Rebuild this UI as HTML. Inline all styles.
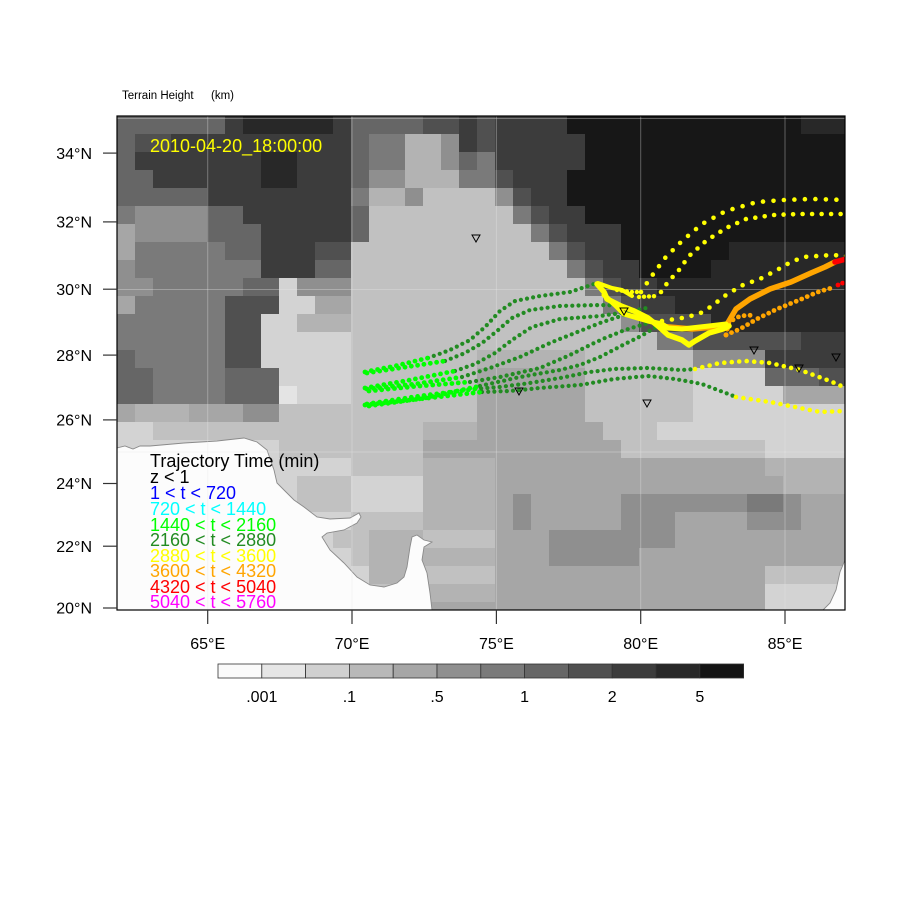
<!DOCTYPE html>
<html><head><meta charset="utf-8">
<style>
html,body{margin:0;padding:0;background:#fff;}
svg{display:block;font-family:"Liberation Sans",Arial,sans-serif;}
</style></head>
<body>
<svg id="s" xmlns="http://www.w3.org/2000/svg" width="900" height="900" viewBox="0 0 900 900">
<defs><clipPath id="cp"><rect x="117" y="116" width="728" height="494"/></clipPath></defs>
<rect x="0" y="0" width="900" height="900" fill="#fff"/>
<g clip-path="url(#cp)">
  <g id="terrain"></g>
  <polygon fill="#fcfcfc" points="117,448 125,446 133,449 140,446 150,446 184,443 217,441 244,438 257,442 267,450 274,470 277,483 284,490 294,500 304,507 317,517 330,519 350,518 359,513 361,517 357,523 344,530 327,533 322,537 330,550 344,563 357,577 370,585 384,587 397,583 404,577 407,567 410,547 412,537 417,535 424,540 432,542 424,547 422,560 427,573 430,593 432,610 117,610"/>
  <polyline fill="none" stroke="#8a8a8a" stroke-width="0.9" points="117,448 125,446 133,449 140,446 150,446 184,443 217,441 244,438 257,442 267,450 274,470 277,483 284,490 294,500 304,507 317,517 330,519 350,518 359,513 361,517 357,523 344,530 327,533 322,537 330,550 344,563 357,577 370,585 384,587 397,583 404,577 407,567 410,547 412,537 417,535 424,540 432,542 424,547 422,560 427,573 430,593 432,610"/>
  <polygon fill="#fcfcfc" points="845,560 840,572 836,590 830,603 823,610 845,610"/>
  <polyline fill="none" stroke="#8a8a8a" stroke-width="0.9" points="845,560 840,572 836,590 830,603 823,610"/>
  <g stroke="#e8e8e8" stroke-opacity="0.35" stroke-width="1" fill="none">
    <line x1="207.7" y1="116" x2="207.7" y2="610"/>
    <line x1="352" y1="116" x2="352" y2="610"/>
    <line x1="496.4" y1="116" x2="496.4" y2="610"/>
    <line x1="640.7" y1="116" x2="640.7" y2="610"/>
    <line x1="785" y1="116" x2="785" y2="610"/>
    <line x1="117" y1="118.5" x2="845" y2="118.5"/>
    <line x1="117" y1="289.5" x2="845" y2="289.5"/>
    <line x1="117" y1="452" x2="845" y2="452"/>
  </g>
  <g id="traj"></g>
  <g fill="none" stroke="#000" stroke-width="1">
    <path d="M472,235 L480,235 L476,242 Z"/>
    <path d="M620,308 L628,308 L624,315 Z"/>
    <path d="M515,388 L523,388 L519,395 Z"/>
    <path d="M643,400 L651,400 L647,407 Z"/>
    <path d="M750,347 L758,347 L754,354 Z"/>
    <path d="M795,365 L803,365 L799,372 Z"/>
    <path d="M832,354 L840,354 L836,361 Z"/>
  </g>
  <text x="150" y="152" font-size="18" fill="#ffff00">2010-04-20_18:00:00</text>
  <g font-size="18">
    <text x="150" y="467" fill="#000">Trajectory Time (min)</text>
    <text x="150" y="483" fill="#000">z &lt; 1</text>
    <text x="150" y="499" fill="#0000ff">1 &lt; t &lt; 720</text>
    <text x="150" y="515" fill="#00ffff">720 &lt; t &lt; 1440</text>
    <text x="150" y="531" fill="#00ff00">1440 &lt; t &lt; 2160</text>
    <text x="150" y="546" fill="#228b22">2160 &lt; t &lt; 2880</text>
    <text x="150" y="562" fill="#ffff00">2880 &lt; t &lt; 3600</text>
    <text x="150" y="577" fill="#ffa500">3600 &lt; t &lt; 4320</text>
    <text x="150" y="593" fill="#ff0000">4320 &lt; t &lt; 5040</text>
    <text x="150" y="608" fill="#ff00ff">5040 &lt; t &lt; 5760</text>
  </g>
</g>
<rect x="117" y="116" width="728" height="494" fill="none" stroke="#000" stroke-width="1.2"/>

<g stroke="#333" stroke-width="1.2">
  <line x1="103" y1="153.1" x2="117" y2="153.1"/>
  <line x1="103" y1="221.9" x2="117" y2="221.9"/>
  <line x1="103" y1="289.2" x2="117" y2="289.2"/>
  <line x1="103" y1="355.1" x2="117" y2="355.1"/>
  <line x1="103" y1="419.9" x2="117" y2="419.9"/>
  <line x1="103" y1="483.5" x2="117" y2="483.5"/>
  <line x1="103" y1="546.2" x2="117" y2="546.2"/>
  <line x1="103" y1="608" x2="117" y2="608"/>
  <line x1="207.7" y1="610" x2="207.7" y2="624"/>
  <line x1="352" y1="610" x2="352" y2="624"/>
  <line x1="496.4" y1="610" x2="496.4" y2="624"/>
  <line x1="640.7" y1="610" x2="640.7" y2="624"/>
  <line x1="785" y1="610" x2="785" y2="624"/>
</g>
<g font-size="16" fill="#000" text-anchor="end">
  <text x="92" y="158.8">34°N</text>
  <text x="92" y="227.6">32°N</text>
  <text x="92" y="294.9">30°N</text>
  <text x="92" y="360.8">28°N</text>
  <text x="92" y="425.6">26°N</text>
  <text x="92" y="489.2">24°N</text>
  <text x="92" y="551.9">22°N</text>
  <text x="92" y="613.7">20°N</text>
</g>
<g font-size="16" fill="#000" text-anchor="middle">
  <text x="207.7" y="649">65°E</text>
  <text x="352" y="649">70°E</text>
  <text x="496.4" y="649">75°E</text>
  <text x="640.7" y="649">80°E</text>
  <text x="785" y="649">85°E</text>
</g>
<text x="122" y="99" font-size="11.5" fill="#000">Terrain Height</text>
<text x="211" y="99" font-size="11.5" fill="#000">(km)</text>

<g id="cbar" stroke="#333" stroke-width="0.8"></g>
<g font-size="16" fill="#000" text-anchor="middle">
  <text x="261.8" y="702">.001</text>
  <text x="349.4" y="702">.1</text>
  <text x="437" y="702">.5</text>
  <text x="524.6" y="702">1</text>
  <text x="612.2" y="702">2</text>
  <text x="699.8" y="702">5</text>
</g>
</svg>
<script>
(function(){
var NS="http://www.w3.org/2000/svg";
function el(tag,attrs,parent){var e=document.createElementNS(NS,tag);for(var k in attrs)e.setAttribute(k,attrs[k]);parent.appendChild(e);return e;}
var C={'0':'#fcfcfc','1':'#e4e4e4','2':'#d3d3d3','3':'#c1c1c1','4':'#b3b3b3','5':'#a6a6a6','6':'#8f8f8f','7':'#7a7a7a','8':'#666666','9':'#505050','a':'#3c3c3c','b':'#282828','c':'#171717'};
var R=[
"86 a1 b5 a1 84 92 a1 91 a4 c13 b3",
"81 92 a10 81 72 42 61 a1 91 a5 c15",
"81 a7 b2 a3 81 72 42 61 81 71 a5 c15",
"82 a6 b2 a3 81 62 43 72 91 a3 c16",
"85 a8 71 42 61 34 61 91 a2 c16",
"71 64 82 a6 81 38 71 91 a2 c15",
"51 64 83 a5 81 39 71 91 a3 c13",
"51 75 82 a3 92 311 71 91 a2 c6 b7",
"61 77 a3 82 312 71 91 a2 c4 b8",
"62 75 82 21 63 313 71 91 a2 b11",
"51 75 93 22 52 314 71 91 a2 b10",
"76 92 22 43 315 61 94 b8",
"76 92 25 317 72 96 a3",
"81 75 92 25 37 46 36 64 a5",
"82 74 83 24 37 56 36 24 83 92",
"82 74 83 11 23 37 56 36 25 54",
"51 43 53 62 311 56 36 29",
"22 315 43 57 33 211",
"29 38 511 38 25",
"213 34 44 515 45",
"210 33 24 44 516 44",
"210 33 24 44 51 61 55 62 65 72 61 53",
"213 34 44 51 61 55 63 54 63 53",
"212 32 43 34 53 67 510",
"213 31 43 44 53 65 512",
"214 43 34 515 35",
"214 33 44 515 25",
"214 33 54 515 25"
];
var T=document.getElementById('terrain');
for(var j=0;j<R.length;j++){
  var toks=R[j].split(' '),i=0;
  for(var t=0;t<toks.length;t++){
    var ch=toks[t][0],n=parseInt(toks[t].slice(1),10);
    el('rect',{x:117+18*i,y:116+18*j,width:18*n+0.6,height:18.6,fill:C[ch]},T);
    i+=n;
  }
}
var cb=document.getElementById('cbar');
var cc=['#fafafa','#e6e6e6','#d0d0d0','#b8b8b8','#a6a6a6','#8f8f8f','#7a7a7a','#666666','#505050','#3c3c3c','#282828','#141414'];
for(var k=0;k<12;k++){el('rect',{x:218+43.8*k,y:664,width:43.8,height:14,fill:cc[k]},cb);}

var G=document.getElementById('traj');
function dots(pts,sp,r,col){
  var rem=0;
  for(var k=0;k<pts.length-1;k++){
    var x0=pts[k][0],y0=pts[k][1],x1=pts[k+1][0],y1=pts[k+1][1];
    var L=Math.sqrt((x1-x0)*(x1-x0)+(y1-y0)*(y1-y0));
    var d=rem;
    while(d<=L){el('circle',{cx:(x0+(x1-x0)*d/L).toFixed(1),cy:(y0+(y1-y0)*d/L).toFixed(1),r:r,fill:col},G);d+=sp;}
    rem=d-L;
  }
}
function line(pts,w,col){
  el('polyline',{points:pts.map(function(p){return p[0]+','+p[1];}).join(' '),fill:'none',stroke:col,'stroke-width':w,'stroke-linecap':'round','stroke-linejoin':'round'},G);
}
var LIME='#00ff00',DG='#228b22',Y='#ffff00',O='#ffa500',RD='#ff0000';
var greens=[
 [[[365,372],[395,366],[428,358]],[[428,358],[450,350],[470,340],[485,327],[500,311],[515,301],[540,296],[570,292],[597,283]]],
 [[[367,373],[400,368],[445,361]],[[445,361],[465,353],[482,343],[497,331],[512,318],[530,310],[560,306],[600,305],[628,306]]],
 [[[365,388],[410,380],[455,371]],[[455,371],[475,364],[495,353],[512,340],[532,327],[560,319],[600,316],[628,312],[651,307]]],
 [[[367,389],[415,384],[462,377]],[[462,377],[490,368],[520,357],[550,343],[580,331],[600,323],[624,315]]],
 [[[369,391],[420,386],[470,382]],[[470,382],[500,377],[540,368],[570,355],[590,345],[605,338],[625,330],[648,323]]],
 [[[365,405],[420,399],[482,392]],[[482,392],[510,391],[540,388],[580,385],[614,379],[648,376],[675,379],[702,384],[723,392],[736,397]]],
 [[[367,404],[420,396],[475,389]],[[475,389],[500,387],[530,383],[560,378],[590,372],[614,369],[648,368],[682,370],[695,369]]],
 [[[369,406],[425,398],[480,386]],[[480,386],[520,377],[560,370],[580,365],[600,357],[621,346],[641,336],[658,326]]]
];
for(var g=0;g<greens.length;g++){
  dots(greens[g][1],6.2,2.1,DG);
  dots(greens[g][0],6.4,2.4,LIME);
}
dots([[736,397],[770,402],[800,408],[820,412],[845,411]],7.5,2.3,Y);
dots([[695,369],[720,363],[745,361],[770,363],[800,370],[830,381],[848,389]],7.5,2.3,Y);
dots([[641,292],[651,277],[665,258],[682,241],[702,224],[726,211],[757,202],[784,200],[811,199],[848,200]],10.5,2.3,Y);
dots([[661,292],[668,282],[679,270],[689,256],[706,241],[726,228],[746,219],[774,215],[801,214],[848,214]],9.5,2.3,Y);
dots([[662,321],[682,318],[699,314],[712,306],[726,295],[743,285],[760,279],[777,270],[791,262],[804,257],[818,256],[831,255],[848,256]],10,2.3,Y);
dots([[617,290],[631,292],[640,292]],5,2.2,Y);
dots([[639,297],[657,296]],5,2.2,Y);
line([[658,326],[692,329],[726,326],[736,309],[750,299],[770,289],[791,282],[811,273],[825,267],[835,262]],5.5,O);
line([[835,262],[850,258]],5.5,RD);
dots([[726,335],[729,322],[740,316],[755,315]],6,2.4,O);
dots([[726,335],[740,329],[757,319],[777,309],[797,301],[818,292],[835,287]],6,2.4,O);
dots([[838,285],[850,280]],5,2.4,RD);
line([[597,284],[604,292],[607,299],[621,306],[634,311],[648,318],[658,326],[668,335],[682,340],[689,345],[695,341],[709,333],[723,329],[729,326]],5.5,Y);
line([[604,295],[615,305],[624,314],[648,321],[662,324],[668,328],[682,329],[709,326],[726,324]],5,Y);
line([[598,283],[612,288],[622,290],[632,296]],4,Y);
})();
</script>
</body></html>
